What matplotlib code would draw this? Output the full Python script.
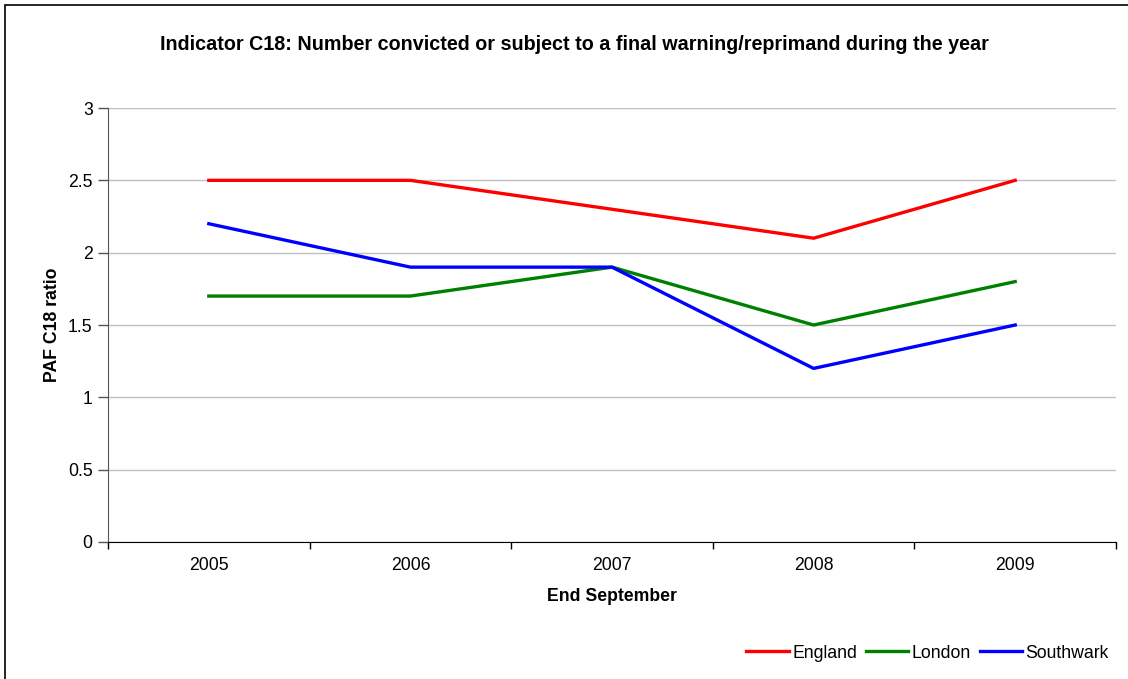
import matplotlib.pyplot as plt
from matplotlib.patches import Rectangle

plt.rcParams['font.family'] = ['Liberation Sans', 'DejaVu Sans']

years = ['2005', '2006', '2007', '2008', '2009']
england = [2.5, 2.5, 2.3, 2.1, 2.5]
london = [1.7, 1.7, 1.9, 1.5, 1.8]
southwark = [2.2, 1.9, 1.9, 1.2, 1.5]

fig = plt.figure(figsize=(11.28, 6.79), dpi=100)
ax = fig.add_axes([108 / 1128, 1 - 542 / 679, 1008 / 1128, 434 / 679])

# figure border
fig.patches.append(Rectangle((5 / 1128, -0.01), 1.05, 1 - 5 / 679 + 0.01,
                             transform=fig.transFigure, fill=False,
                             edgecolor='black', linewidth=1.2))

x = range(len(years))
ax.plot(x, england, color='#ff0000', lw=2.4, label='England')
ax.plot(x, london, color='#008000', lw=2.4, label='London')
ax.plot(x, southwark, color='#0000ff', lw=2.4, label='Southwark')

ax.set_xlim(-0.5, 4.5)
ax.set_ylim(0, 3)
ax.set_yticks([0, 0.5, 1, 1.5, 2, 2.5, 3])
ax.set_yticklabels(['0', '0.5', '1', '1.5', '2', '2.5', '3'])
ax.set_xticks(list(x))
ax.set_xticklabels(years)
ax.set_xticks([i - 0.5 for i in range(6)], minor=True)
ax.tick_params(axis='x', which='major', length=0, pad=11, labelsize=12.7)
ax.tick_params(axis='x', which='minor', length=5, width=1, direction='out')
ax.tick_params(axis='y', length=7, width=1, direction='out', labelsize=12.7, pad=4,
               color='#555555')

ax.grid(axis='y', color='#c0c0c0', lw=1)
ax.set_axisbelow(True)
for s in ['top', 'right']:
    ax.spines[s].set_visible(False)
ax.spines['left'].set_color('#555555')
ax.spines['bottom'].set_color('black')

ax.set_xlabel('End September', fontsize=12.7, fontweight='bold', labelpad=10)
ax.set_ylabel('PAF C18 ratio', fontsize=12.7, fontweight='bold', labelpad=5)
fig.text(574 / 1128, 1 - 44 / 679, 'Indicator C18: Number convicted or subject to a final warning/reprimand during the year',
         ha='center', va='center', fontsize=14.2, fontweight='bold')

fig.legend(loc='center right', bbox_to_anchor=(1116 / 1128, 1 - 653 / 679), ncol=3,
           frameon=False, fontsize=12.7, handlelength=2.4, handletextpad=0.2,
           columnspacing=0.5, borderaxespad=0)

fig.savefig('out.png', dpi=100)
